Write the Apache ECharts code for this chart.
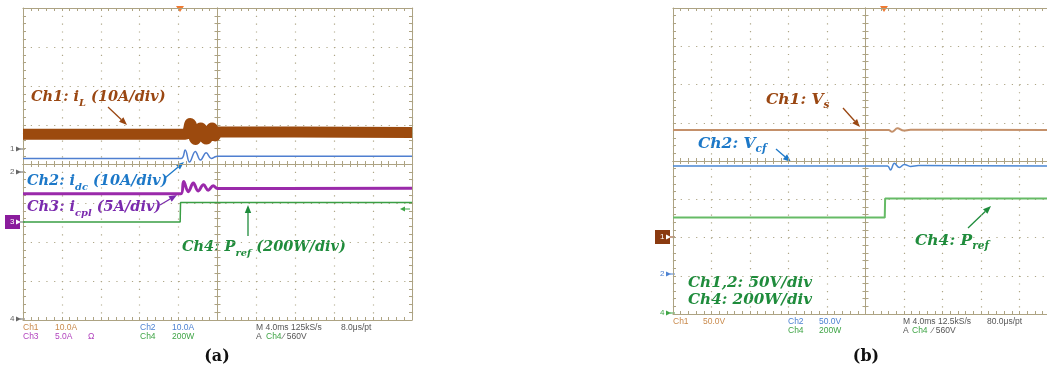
<!DOCTYPE html>
<html>
<head>
<meta charset="utf-8">
<script src="https://cdn.jsdelivr.net/npm/echarts@6/dist/echarts.min.js"></script>
<style>
  html, body { margin: 0; background: #fff; }
  #chart { width: 1047px; height: 377px; }
</style>
</head>
<body>
<div id="chart"></div>
<script>
// traces are in scope divisions: x -5..5, y -4..4, (0,0) = centre of the screen

// (a) load step
const aIL = [[-5, 0.76], [-0.83, 0.76], [-0.70, 1.04], [-0.57, 0.63], [-0.43, 0.92], [-0.29, 0.64],
  [-0.14, 0.92], [-0.06, 0.72], [0, 0.82], [5, 0.81]]
const aIdc = [[-5, 0.14], [-0.94, 0.14], [-0.83, 0.36], [-0.72, 0.05], [-0.57, 0.32], [-0.44, 0.10],
  [-0.29, 0.29], [-0.16, 0.14], [0, 0.2], [5, 0.2]]
const aIcpl = [[-5, -0.76], [-0.94, -0.76], [-0.87, -0.45], [-0.75, -0.71], [-0.62, -0.49], [-0.50, -0.69],
  [-0.36, -0.53], [-0.24, -0.67], [-0.11, -0.56], [0, -0.63], [5, -0.62]]
const aPref = [[-5, -1.49], [-0.96, -1.49], [-0.95, -0.99], [5, -0.99]]

// (b) same step, voltages
const bVs = [[-5, 0.81], [0.60, 0.81], [0.69, 0.765], [0.83, 0.854], [0.99, 0.796], [1.17, 0.815], [5, 0.81]]
const bVcf = [[-5, -0.13], [0.57, -0.13], [0.65, -0.235], [0.75, -0.06], [0.88, -0.17], [1.01, -0.09],
  [1.17, -0.144], [1.38, -0.12], [5, -0.13]]
const bPref = [[-5, -1.48], [0.50, -1.48], [0.51, -0.98], [5, -0.98]]

const grat = "#ada383"
const dot = "#aea687"

const grids = [
  { left: 23, top: 8, width: 389, height: 312, outerBoundsMode: "none" },
  { left: 673, top: 8, width: 385, height: 306, outerBoundsMode: "none" },
]

function scopeAxes(dim, gi) {
  const g = grids[gi]
  const span = dim === "x" ? g.height : g.width
  const range = dim === "x" ? { min: -5, max: 5, interval: 1 } : { min: -4, max: 4, interval: 1 }
  const step = dim === "x" ? g.height / 40 : g.width / 50
  const base = (pos, inside, offset, split) => ({
    gridIndex: gi,
    type: "value",
    ...range,
    position: pos,
    offset: offset,
    axisLabel: { show: false },
    axisLine: { onZero: false, lineStyle: { color: grat, width: 1 } },
    axisTick: { show: true, inside: inside, length: 3, lineStyle: { color: grat } },
    minorTick: { show: true, splitNumber: 5, length: 3, lineStyle: { color: grat } },
    splitLine: split
      ? { show: true, lineStyle: { color: dot, width: 1.2, type: [1.2, step - 1.2] } }
      : { show: false },
  })
  const half = -span / 2
  if (dim === "x") {
    return [base("bottom", true, 0, true), base("top", true, 0, false),
      base("bottom", false, half, false), base("top", false, half, false)]
  }
  return [base("left", true, 0, true), base("right", true, 0, false),
    base("left", false, half, false), base("right", false, half, false)]
}

function trace(panel, data, color, width, smooth) {
  return {
    type: "line",
    xAxisIndex: panel * 4,
    yAxisIndex: panel * 4,
    data: data,
    symbol: "none",
    smooth: smooth,
    lineStyle: { color: color, width: width },
    silent: true,
  }
}

// annotation helpers
function label(x, y, parts, color, size) {
  let text = ""
  parts.forEach((p) => { text += "{" + (p[1] ? "s" : "m") + "|" + p[0] + "}" })
  const fam = "\"DejaVu Serif\", serif"
  return {
    type: "text",
    style: {
      x: x, y: y, text: text, fill: color, verticalAlign: "middle",
      rich: {
        m: { fontFamily: fam, fontWeight: "bold", fontStyle: "italic", fontSize: size, lineHeight: 22, fill: color },
        s: { fontFamily: fam, fontWeight: "bold", fontStyle: "italic", fontSize: size * 0.68, lineHeight: 14,
          verticalAlign: "bottom", fill: color },
      },
    },
  }
}

function arrow(x1, y1, x2, y2, color) {
  const a = Math.atan2(y2 - y1, x2 - x1)
  const L = 8, W = 3.2
  const bx = x2 - L * Math.cos(a), by = y2 - L * Math.sin(a)
  return [
    { type: "line", shape: { x1: x1, y1: y1, x2: bx, y2: by }, style: { stroke: color, lineWidth: 1.3 } },
    { type: "polygon", shape: { points: [[x2, y2], [bx + W * Math.sin(a), by - W * Math.cos(a)],
      [bx - W * Math.sin(a), by + W * Math.cos(a)]] }, style: { fill: color } },
  ]
}

function txt(x, y, s, color) {
  return { type: "text", style: { x: x, y: y, text: s, fill: color, verticalAlign: "middle",
    font: "8.5px \"Liberation Sans\", sans-serif" } }
}

function marker(x, y, s, color, box) {
  const els = []
  if (box) {
    els.push({ type: "rect", shape: { x: x - 7, y: y - 7, width: 15, height: 14 }, style: { fill: box } })
  }
  els.push({ type: "text", style: { x: x - 2, y: y, text: s, fill: box ? "#fff" : color, verticalAlign: "middle",
    font: "8px \"Liberation Sans\", sans-serif" } })
  els.push({ type: "polygon", shape: { points: [[x + 9, y], [x + 4, y - 2.5], [x + 4, y + 2.5]] },
    style: { fill: box ? "#fff" : color } })
  els.push({ type: "line", shape: { x1: x + 8, y1: y, x2: x + 13, y2: y }, style: { stroke: color, lineWidth: 1 } })
  return els
}

function trig(x) {
  return { type: "polygon", shape: { points: [[x - 4, 6], [x + 4, 6], [x, 12]] }, style: { fill: "#f07a32" } }
}

const brown = "#9a4712", blue = "#1c78c8", purple = "#7a2aae", green = "#1f8c3c"
const cOr = "#c98a4c", cBl = "#4d82d2", cPu = "#b244be", cGr = "#3fa546", cGy = "#555"

const graphics = [
  // (a)
  label(31, 97, [["Ch1: i"], ["L", 1], [" (10A/div)"]], brown, 14.5),
  label(27, 181, [["Ch2: i"], ["dc", 1], [" (10A/div)"]], blue, 14.5),
  label(27, 207, [["Ch3: i"], ["cpl", 1], [" (5A/div)"]], purple, 14.5),
  label(182, 247, [["Ch4: P"], ["ref", 1], [" (200W/div)"]], green, 14.5),
  ...arrow(108, 107, 127, 125, brown),
  ...arrow(165, 178, 184, 162, blue),
  ...arrow(160, 205, 177, 195, purple),
  ...arrow(248, 236, 248, 205, green),
  ...marker(12, 149, "1", "#666"),
  ...marker(12, 172, "2", "#666"),
  ...marker(12, 222, "3", "#666", "#8a1c9c"),
  ...marker(12, 319, "4", "#666"),
  trig(180),
  { type: "polygon", shape: { points: [[400, 209], [405, 206.5], [405, 211.5]] }, style: { fill: cGr } },
  { type: "line", shape: { x1: 404, y1: 209, x2: 410, y2: 209 }, style: { stroke: cGr, lineWidth: 1 } },
  txt(23, 328, "Ch1", cOr), txt(55, 328, "10.0A", cOr),
  txt(140, 328, "Ch2", cBl), txt(172, 328, "10.0A", cBl),
  txt(256, 328, "M 4.0ms 125kS/s", cGy), txt(341, 328, "8.0\u03bcs/pt", cGy),
  txt(23, 337, "Ch3", cPu), txt(55, 337, "5.0A", cPu), txt(88, 337, "\u03a9", cPu),
  txt(140, 337, "Ch4", cGr), txt(172, 337, "200W", cGr),
  txt(256, 337, "A", cGy), txt(266, 337, "Ch4", cGr), txt(283, 337, "\u2215 560V", cGy),
  { type: "text", style: { x: 217, y: 357, text: "(a)", fill: "#111", align: "center", verticalAlign: "middle",
    font: "bold 16px \"DejaVu Serif\", serif" } },

  // (b)
  label(766, 100, [["Ch1: V"], ["s", 1]], brown, 15.5),
  label(698, 144, [["Ch2: V"], ["cf", 1]], blue, 15.5),
  label(915, 241, [["Ch4: P"], ["ref", 1]], green, 15.5),
  label(688, 283, [["Ch1,2: 50V/div"]], green, 15.2),
  label(688, 300, [["Ch4: 200W/div"]], green, 15.2),
  ...arrow(843, 108, 860, 127, brown),
  ...arrow(776, 149, 791, 162, blue),
  ...arrow(968, 228, 991, 206, green),
  ...marker(662, 237, "1", "#8a3a10", "#8a3a10"),
  ...marker(662, 274, "2", cBl),
  ...marker(662, 313, "4", cGr),
  trig(884),
  txt(673, 322, "Ch1", cOr), txt(703, 322, "50.0V", cOr),
  txt(788, 322, "Ch2", cBl), txt(819, 322, "50.0V", cBl),
  txt(903, 322, "M 4.0ms 12.5kS/s", cGy), txt(987, 322, "80.0\u03bcs/pt", cGy),
  txt(788, 331, "Ch4", cGr), txt(819, 331, "200W", cGr),
  txt(903, 331, "A", cGy), txt(912, 331, "Ch4", cGr), txt(932, 331, "\u2215 560V", cGy),
  { type: "text", style: { x: 866, y: 357, text: "(b)", fill: "#111", align: "center", verticalAlign: "middle",
    font: "bold 16px \"DejaVu Serif\", serif" } },
]

const chart = echarts.init(document.getElementById("chart"))
chart.setOption({
  animation: false,
  backgroundColor: "#fff",
  grid: grids,
  xAxis: [...scopeAxes("x", 0), ...scopeAxes("x", 1)],
  yAxis: [...scopeAxes("y", 0), ...scopeAxes("y", 1)],
  series: [
    trace(0, aIL, "#9c4a0e", 11, 0.35),
    trace(0, aIdc, "#4f7fd0", 1.5, 0.4),
    trace(0, aIcpl, "#9a2aaa", 3, 0.4),
    trace(0, aPref, "#3a9e44", 1.5, false),
    trace(1, bVs, "#c4906a", 2, 0.4),
    trace(1, bVcf, "#4a86d2", 1.5, 0.4),
    trace(1, bPref, "#66bb66", 2, false),
  ],
  graphic: graphics,
})
</script>
</body>
</html>
